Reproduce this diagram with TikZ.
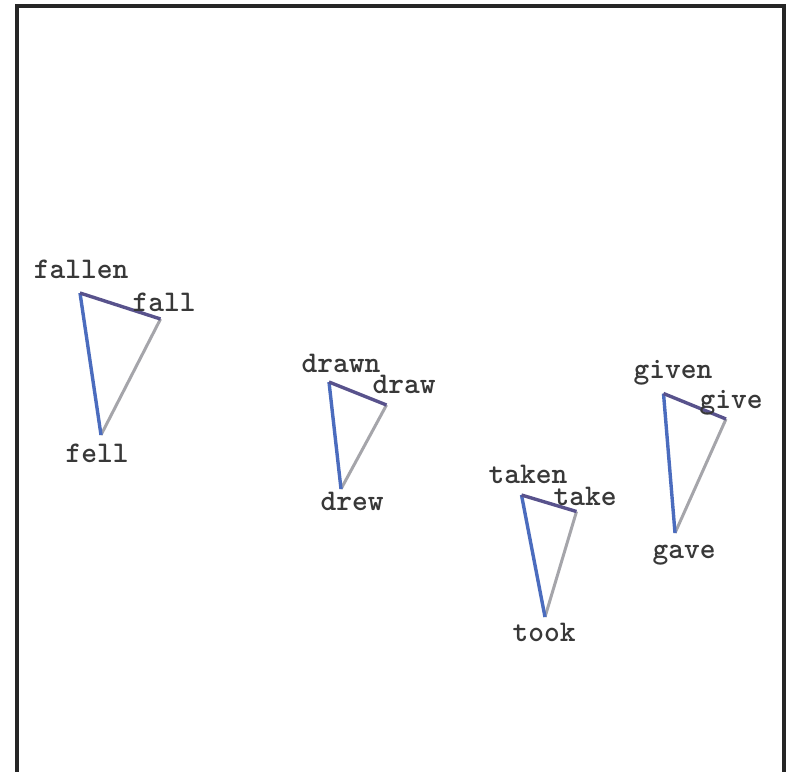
\documentclass[tikz,border=0pt]{standalone}
\begin{document}
\begin{tikzpicture}[x=1pt,y=-1pt,
  word/.style={font=\ttfamily\bfseries\fontsize{30}{30}\selectfont, text=black!78, anchor=base, inner sep=0pt},
  ppedge/.style={draw={rgb,255:red,75;green,108;blue,190}, line width=3.4pt},
  baseedge/.style={draw={rgb,255:red,88;green,82;blue,140}, line width=3.4pt},
  pastedge/.style={draw={rgb,255:red,165;green,165;blue,170}, line width=3pt},
  framebox/.style={draw=black!85, line width=3.4pt}]
\useasboundingbox (0,0) rectangle (792,771);
\fill[white] (0,0) rectangle (792,771);
\draw[framebox] (17,6) rectangle (784,790);
% fall
\coordinate (fallenV) at (80,293);
\coordinate (fallV) at (160.5,319);
\coordinate (fellV) at (101,435);
\draw[pastedge] (fallV) -- (fellV);
\draw[ppedge] (fallenV) -- (fellV);
\draw[baseedge] (fallenV) -- (fallV);
\node[word] (fallen) at (81,278) {fallen};
\node[word] (fall) at (164,311) {fall};
\node[word] (fell) at (97,462) {fell};
% draw
\coordinate (drawnV) at (329,382);
\coordinate (drawV) at (386.5,405);
\coordinate (drewV) at (341,489);
\draw[pastedge] (drawV) -- (drewV);
\draw[ppedge] (drawnV) -- (drewV);
\draw[baseedge] (drawnV) -- (drawV);
\node[word] (drawn) at (341,372) {drawn};
\node[word] (draw) at (404,393) {draw};
\node[word] (drew) at (352,510) {drew};
% take
\coordinate (takenV) at (521.5,495);
\coordinate (takeV) at (576.5,511.5);
\coordinate (tookV) at (545,617);
\draw[pastedge] (takeV) -- (tookV);
\draw[ppedge] (takenV) -- (tookV);
\draw[baseedge] (takenV) -- (takeV);
\node[word] (taken) at (528,483) {taken};
\node[word] (take) at (585,505) {take};
\node[word] (took) at (544,641) {took};
% give
\coordinate (givenV) at (663.5,393.5);
\coordinate (giveV) at (726,419);
\coordinate (gaveV) at (675,533);
\draw[pastedge] (giveV) -- (gaveV);
\draw[ppedge] (givenV) -- (gaveV);
\draw[baseedge] (givenV) -- (giveV);
\node[word] (given) at (673,378) {given};
\node[word] (give) at (731,408) {give};
\node[word] (gave) at (684,558) {gave};
\end{tikzpicture}
\end{document}
